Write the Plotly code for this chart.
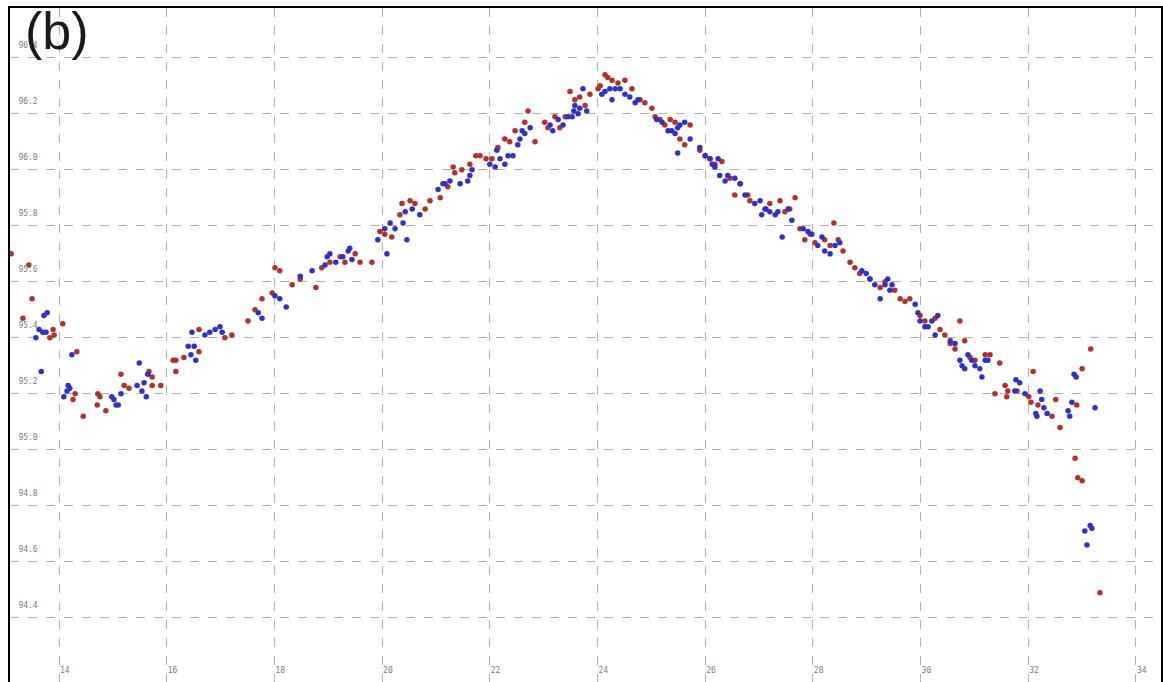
import plotly.graph_objects as go

# ---- data (time in minutes, value) ----
red_x = [13.11, 13.44, 13.50, 13.33, 13.89, 13.83, 13.91, 14.07, 14.33, 14.30, 14.26, 14.45, 14.72, 14.76,
         14.71, 14.87, 15.15, 15.21, 15.30, 15.67, 15.73, 15.73, 15.89, 16.12, 16.17, 16.17, 16.32, 16.60,
         16.60, 17.08, 17.21, 17.51, 17.64, 17.77, 18.01, 18.10, 17.96, 18.33, 18.48, 18.77, 18.88, 19.03,
         19.22, 19.31, 19.50, 19.59, 19.81, 19.96, 20.05, 20.18, 20.33, 20.37, 20.52, 20.61, 20.80, 20.89,
         21.08, 21.22, 21.32, 21.35, 21.48, 21.63, 21.74, 21.82, 21.93, 22.04, 22.15, 22.28, 22.37, 22.47,
         22.65, 22.71, 22.84, 23.02, 23.08, 23.21, 23.30, 23.40, 23.49, 23.58, 23.67, 23.77, 23.86, 24.01,
         24.05, 24.14, 24.19, 24.27, 24.38, 24.51, 24.64, 24.79, 24.88, 25.01, 25.07, 25.16, 25.25, 25.35,
         25.44, 25.53, 25.62, 25.72, 25.90, 26.00, 26.09, 26.18, 26.31, 26.46, 26.55, 26.65, 26.79, 26.83,
         27.20, 27.39, 27.48, 27.57, 27.67, 27.76, 27.85, 27.95, 28.04, 28.22, 28.32, 28.39, 28.47, 28.56,
         28.69, 28.78, 28.87, 29.06, 29.25, 29.34, 29.52, 29.62, 29.71, 29.80, 29.99, 30.08, 30.27, 30.36,
         30.45, 30.55, 30.64, 30.73, 30.82, 30.92, 31.01, 31.20, 31.29, 31.38, 31.47, 31.57, 31.62, 31.60,
         31.79, 32.01, 32.05, 32.09, 32.18, 32.44, 32.51, 32.59, 32.90, 33.00, 33.16, 32.87, 32.92, 33.00,
         33.33]
red_y = [95.70, 95.66, 95.54, 95.47, 95.43, 95.40, 95.41, 95.45, 95.35, 95.20, 95.18, 95.12, 95.20, 95.19,
         95.16, 95.14, 95.27, 95.23, 95.22, 95.28, 95.26, 95.23, 95.23, 95.32, 95.32, 95.28, 95.33, 95.35,
         95.43, 95.40, 95.41, 95.46, 95.50, 95.54, 95.65, 95.64, 95.56, 95.59, 95.61, 95.58, 95.65, 95.67,
         95.69, 95.67, 95.70, 95.67, 95.67, 95.78, 95.77, 95.76, 95.84, 95.88, 95.89, 95.88, 95.86, 95.89,
         95.90, 95.94, 96.01, 95.99, 96.00, 96.02, 96.05, 96.05, 96.04, 96.04, 96.08, 96.11, 96.10, 96.14,
         96.17, 96.21, 96.10, 96.17, 96.15, 96.19, 96.15, 96.19, 96.28, 96.25, 96.26, 96.23, 96.27, 96.29,
         96.30, 96.34, 96.33, 96.32, 96.31, 96.32, 96.29, 96.25, 96.24, 96.22, 96.19, 96.18, 96.16, 96.18,
         96.17, 96.11, 96.09, 96.16, 96.07, 96.05, 96.04, 96.02, 96.03, 95.97, 95.91, 95.95, 95.91, 95.89,
         95.88, 95.89, 95.85, 95.86, 95.90, 95.79, 95.75, 95.77, 95.74, 95.75, 95.73, 95.81, 95.75, 95.71,
         95.67, 95.65, 95.63, 95.61, 95.58, 95.60, 95.57, 95.54, 95.53, 95.54, 95.48, 95.46, 95.47, 95.43,
         95.41, 95.38, 95.36, 95.46, 95.39, 95.33, 95.32, 95.34, 95.34, 95.20, 95.31, 95.23, 95.21, 95.19,
         95.21, 95.19, 95.17, 95.28, 95.16, 95.12, 95.18, 95.08, 95.16, 95.29, 95.36, 94.97, 94.90, 94.89,
         94.49]

blue_x = [13.67, 13.57, 13.63, 13.72, 13.78, 13.70, 13.76, 14.24, 14.17, 14.20, 14.15, 14.09, 14.98, 15.02,
          15.10, 15.06, 15.15, 15.49, 15.45, 15.54, 15.62, 15.58, 15.65, 16.47, 16.40, 16.51, 16.45, 16.54,
          16.71, 16.80, 16.90, 16.99, 17.03, 17.70, 17.77, 18.01, 18.10, 18.22, 18.48, 18.70, 18.94, 18.98,
          19.03, 19.14, 19.27, 19.37, 19.40, 19.44, 19.92, 20.05, 20.09, 20.15, 20.24, 20.39, 20.43, 20.46,
          20.56, 20.70, 21.04, 21.13, 21.17, 21.26, 21.45, 21.59, 21.63, 21.67, 22.00, 22.10, 22.13, 22.19,
          22.28, 22.34, 22.43, 22.52, 22.56, 22.65, 22.75, 22.60, 23.12, 23.17, 23.27, 23.36, 23.45, 23.53,
          23.56, 23.64, 23.67, 23.73, 23.80, 23.58, 24.08, 24.14, 24.23, 24.27, 24.33, 24.42, 24.51, 24.60,
          24.70, 24.75, 25.10, 25.20, 25.31, 25.38, 25.44, 25.49, 25.53, 25.62, 25.72, 25.49, 25.90, 26.00,
          26.09, 26.13, 26.18, 26.24, 26.27, 26.37, 26.42, 26.55, 26.65, 26.74, 26.92, 27.02, 27.11, 27.20,
          27.05, 27.13, 27.30, 27.35, 27.43, 27.54, 27.61, 27.82, 27.91, 27.98, 28.09, 28.17, 28.22, 28.32,
          28.41, 28.50, 28.91, 28.99, 29.06, 29.15, 29.25, 29.34, 29.39, 29.43, 29.47, 29.90, 29.95, 29.99,
          30.08, 30.14, 30.21, 30.27, 30.32, 30.55, 30.64, 30.73, 30.77, 30.82, 30.88, 30.95, 31.01, 31.10,
          31.14, 31.20, 31.25, 31.77, 31.84, 31.75, 31.94, 32.22, 32.25, 32.29, 32.35, 32.14, 32.16, 32.74,
          32.77, 32.81, 32.85, 32.89, 33.24, 33.05, 33.15, 33.18, 33.09]
blue_y = [95.28, 95.40, 95.43, 95.48, 95.49, 95.42, 95.42, 95.34, 95.23, 95.22, 95.21, 95.19, 95.19, 95.18,
          95.16, 95.16, 95.20, 95.31, 95.23, 95.21, 95.19, 95.24, 95.27, 95.42, 95.37, 95.37, 95.34, 95.32,
          95.41, 95.42, 95.43, 95.44, 95.42, 95.49, 95.47, 95.55, 95.54, 95.51, 95.62, 95.64, 95.66, 95.69,
          95.70, 95.67, 95.69, 95.71, 95.72, 95.68, 95.75, 95.79, 95.70, 95.81, 95.79, 95.81, 95.85, 95.75,
          95.86, 95.84, 95.93, 95.95, 95.95, 95.96, 95.95, 95.96, 95.98, 96.00, 96.02, 96.01, 96.07, 96.04,
          96.02, 96.05, 96.05, 96.09, 96.11, 96.13, 96.15, 96.14, 96.16, 96.14, 96.18, 96.16, 96.19, 96.19,
          96.21, 96.20, 96.22, 96.29, 96.21, 96.23, 96.27, 96.28, 96.29, 96.25, 96.29, 96.29, 96.27, 96.26,
          96.24, 96.25, 96.18, 96.17, 96.14, 96.14, 96.13, 96.15, 96.16, 96.17, 96.11, 96.06, 96.08, 96.05,
          96.04, 96.02, 96.01, 96.04, 95.98, 95.96, 95.98, 95.97, 95.95, 95.91, 95.88, 95.89, 95.86, 95.85,
          95.84, 95.86, 95.84, 95.85, 95.76, 95.86, 95.82, 95.79, 95.78, 95.77, 95.73, 95.76, 95.71, 95.70,
          95.73, 95.74, 95.64, 95.63, 95.61, 95.59, 95.54, 95.59, 95.61, 95.57, 95.59, 95.52, 95.49, 95.46,
          95.44, 95.44, 95.46, 95.41, 95.48, 95.39, 95.38, 95.32, 95.30, 95.29, 95.34, 95.32, 95.30, 95.29,
          95.26, 95.32, 95.32, 95.25, 95.24, 95.21, 95.20, 95.21, 95.18, 95.15, 95.13, 95.13, 95.12, 95.14,
          95.12, 95.17, 95.27, 95.26, 95.15, 94.71, 94.73, 94.72, 94.66]

x_ticks = [14, 16, 18, 20, 22, 24, 26, 28, 30, 32, 34]
x_ticktext = ["14", "16", "18", "20", "22", "24", "26", "28", "30", "32", "34"]
y_ticks = [94.2, 94.4, 94.6, 94.8, 95.0, 95.2, 95.4, 95.6, 95.8, 96.0, 96.2, 96.4]
y_ticktext = ["94.2", "94.4", "94.6", "94.8", "95.0", "95.2", "95.4", "95.6", "95.8", "96.0", "96.2", "96.4"]

fig = go.Figure()
fig.add_trace(go.Scatter(x=red_x, y=red_y, mode="markers", name="red",
                         marker=dict(color="#b3302b", size=5.5, line=dict(width=0))))
fig.add_trace(go.Scatter(x=blue_x, y=blue_y, mode="markers", name="blue",
                         marker=dict(color="#3030cc", size=5.5, line=dict(width=0))))

grid = dict(showgrid=True, gridcolor="#b0b0b0", gridwidth=1, griddash="dash",
            zeroline=False, showline=True, linecolor="black", linewidth=2, mirror=True,
            ticks="", tickfont=dict(family="DejaVu Sans Mono", size=8, color="#7a7a7a"))

fig.update_xaxes(range=[13.09, 34.465], tickmode="array", tickvals=x_ticks, ticktext=x_ticktext,
                 ticklabelposition="inside right", ticklabelstandoff=3, **grid)
fig.update_yaxes(range=[94.171, 96.578], tickmode="array", tickvals=y_ticks, ticktext=y_ticktext,
                 ticklabelposition="inside top", ticklabelstandoff=6, ticklabelshift=-7, **grid)

fig.add_annotation(text="(b)", xref="paper", yref="paper", x=0.011, y=1.0119,
                   xanchor="left", yanchor="top", showarrow=False,
                   font=dict(family="Liberation Sans", size=52, color="#1a1a1a"))

fig.update_layout(width=1163, height=682, margin=dict(l=10, r=2, t=8, b=0),
                  paper_bgcolor="white", plot_bgcolor="white", showlegend=False)

fig.write_html("out.html", config={"displayModeBar": False},
               post_script="document.body.style.margin='0';")
